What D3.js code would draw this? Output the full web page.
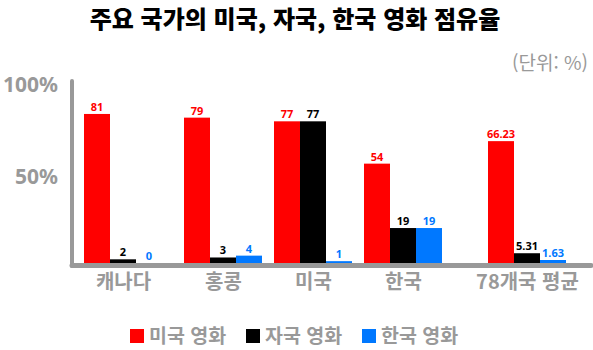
<!DOCTYPE html>
<html lang="ko">
<head>
<meta charset="UTF-8">
<title>주요 국가의 미국, 자국, 한국 영화 점유율</title>
<script src="https://cdnjs.cloudflare.com/ajax/libs/d3/7.8.5/d3.min.js"></script>
<style>
    body { margin: 0; background: #fff; font-family: "Noto Sans CJK KR", "Noto Sans", sans-serif; }
    svg text { font-family: "Noto Sans CJK KR", "Noto Sans", sans-serif; }
</style>
</head>
<body>
<div id="chart"></div>
<script>
const countries = ["캐나다", "홍콩", "미국", "한국", "78개국 평균"];
const seriesNames = ["미국 영화", "자국 영화", "한국 영화"];
const usFilms = [81, 79, 77, 54, 66.23];
const domesticFilms = [2, 3, 77, 19, 5.31];
const koreanFilms = [0, 4, 1, 19, 1.63];
const yTicks = [50, 100];

const colors = ["#ff0000", "#000000", "#0078ff"];
const series = [usFilms, domesticFilms, koreanFilms];

const W = 593, H = 350;
const svg = d3.select("#chart").append("svg")
    .attr("width", W).attr("height", H);

// group centres are not evenly spaced in the original
const x = d3.scaleOrdinal()
    .domain(countries)
    .range([123, 223, 313, 403, 527]);

const xInner = d3.scaleBand()
    .domain(seriesNames)
    .range([-39, 39])
    .padding(0);

const y = d3.scaleLinear()
    .domain([0, 100])
    .range([263, 79]);

// title
svg.append("text")
    .attr("x", 295).attr("y", 28)
    .attr("text-anchor", "middle")
    .style("font-size", "24px")
    .style("font-weight", 900)
    .attr("fill", "#000")
    .text("주요 국가의 미국, 자국, 한국 영화 점유율");

svg.append("text")
    .attr("x", 588).attr("y", 70)
    .attr("text-anchor", "end")
    .style("font-size", "19px")
    .attr("fill", "#999")
    .text("(단위: %)");

// bars
const rows = countries.map((c, i) => ({
    country: c,
    values: seriesNames.map((s, j) => ({ key: s, value: series[j][i], color: colors[j] }))
}));

const groups = svg.selectAll(".group")
    .data(rows)
    .join("g")
    .attr("class", "group")
    .attr("transform", d => `translate(${x(d.country)},0)`);

groups.selectAll("rect")
    .data(d => d.values)
    .join("rect")
    .attr("x", d => xInner(d.key))
    .attr("width", xInner.bandwidth())
    .attr("y", d => y(d.value))
    .attr("height", d => y(0) - y(d.value))
    .attr("fill", d => d.color);

groups.selectAll(".val")
    .data(d => d.values)
    .join("text")
    .attr("class", "val")
    .attr("x", d => xInner(d.key) + xInner.bandwidth() / 2)
    .attr("y", d => y(d.value) - 3)
    .attr("text-anchor", "middle")
    .style("font-family", "'Noto Sans', sans-serif")
    .style("font-size", "11px")
    .style("font-weight", 700)
    .attr("fill", d => d.color)
    .text(d => d.value);

// axes
svg.append("line")
    .attr("x1", 72).attr("x2", 72)
    .attr("y1", y(100) + 2).attr("y2", 266)
    .attr("stroke", "#999").attr("stroke-width", 4)
    .attr("stroke-linecap", "round");

svg.append("line")
    .attr("x1", 72).attr("x2", 591)
    .attr("y1", 265.5).attr("y2", 265.5)
    .attr("stroke", "#999").attr("stroke-width", 5)
    .attr("stroke-linecap", "round");

const yAxis = svg.append("g")
    .attr("transform", "translate(72,0)")
    .call(d3.axisLeft(y).tickValues(yTicks).tickSize(0).tickPadding(14).tickFormat(d => d + "%"));
yAxis.select(".domain").remove();
yAxis.selectAll("text")
    .attr("dy", "0.55em")
    .attr("transform", "translate(0,1)")
    .style("font-family", "'Noto Sans', sans-serif")
    .style("font-size", "21px")
    .style("font-weight", 700)
    .attr("fill", "#999");

const xAxis = svg.append("g")
    .attr("transform", "translate(0,267)")
    .call(d3.axisBottom(x).tickSize(0).tickPadding(8));
xAxis.select(".domain").remove();
xAxis.selectAll("text")
    .style("font-size", "20px")
    .style("font-weight", 700)
    .attr("fill", "#999");

// legend
const legendX = [130, 246, 362];
const legend = svg.selectAll(".legend")
    .data(seriesNames)
    .join("g")
    .attr("class", "legend")
    .attr("transform", (d, i) => `translate(${legendX[i]},329)`);

legend.append("rect")
    .attr("width", 14).attr("height", 14)
    .attr("fill", (d, i) => colors[i]);

legend.append("text")
    .attr("x", 19).attr("y", 14)
    .style("font-size", "19.5px")
    .style("font-weight", 700)
    .attr("fill", "#999")
    .text(d => d);
</script>
</body>
</html>
